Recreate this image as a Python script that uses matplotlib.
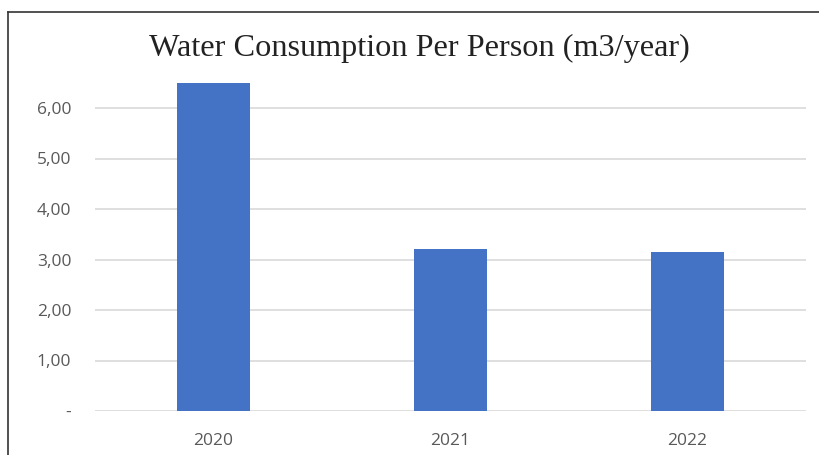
import matplotlib
matplotlib.use("Agg")
import matplotlib.pyplot as plt
from matplotlib.lines import Line2D

years = ["2020", "2021", "2022"]
values = [6.50, 3.21, 3.15]
ytick_values = [0, 1, 2, 3, 4, 5, 6]
ytick_labels = ["-", "1,00", "2,00", "3,00", "4,00", "5,00", "6,00"]
title = "Water Consumption Per Person (m3/year)"

W, H = 820, 455
fig = plt.figure(figsize=(W / 100, H / 100), dpi=100)
ax = fig.add_axes([95 / W, (H - 411) / H, (806 - 95) / W, (411 - 82.75) / H])

x = list(range(len(years)))
ax.bar(x, values, width=0.31, color="#4472C4", zorder=3)
ax.set_xlim(-0.5, len(years) - 0.5)
ax.set_ylim(0, 6.5)
ax.set_xticks(x)
ax.set_xticklabels(years)
ax.set_yticks(ytick_values)
ax.set_yticklabels(ytick_labels)

for s in ax.spines.values():
    s.set_visible(False)
ax.grid(axis="y", color="#d9d9d9", linewidth=1.2, zorder=0)
ax.tick_params(axis="both", length=0, colors="#595959", labelsize=12.5)
ax.tick_params(axis="y", pad=17)
ax.tick_params(axis="x", pad=15.5)
for lab in ax.get_xticklabels() + ax.get_yticklabels():
    lab.set_fontfamily("Open Sans")

fig.text(419 / W, 1 - 48.5 / H, title, ha="center", va="center",
         fontsize=23.2, family="Liberation Serif", color="#222222")

# outer frame (top and left edges visible in the reference)
fig.add_artist(Line2D([8 / W, 1.0], [1 - 12 / H, 1 - 12 / H], transform=fig.transFigure,
                      color="#333333", linewidth=1.2))
fig.add_artist(Line2D([8 / W, 8 / W], [0, 1 - 12 / H], transform=fig.transFigure,
                      color="#333333", linewidth=1.2))

fig.savefig("out.png", dpi=100)
